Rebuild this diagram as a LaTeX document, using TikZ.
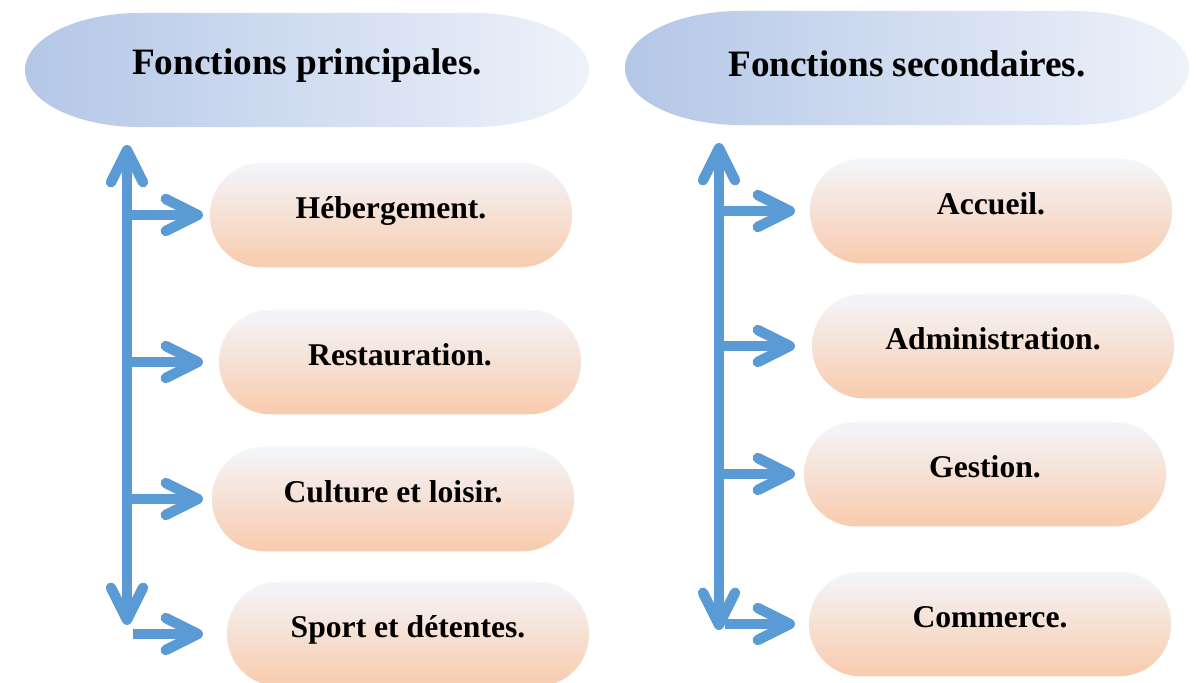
\documentclass[tikz,border=0pt]{standalone}
\usepackage{fontspec}
\setmainfont{Liberation Serif}
\usetikzlibrary{arrows.meta,positioning}
\definecolor{FBlue}{HTML}{5B9BD5}
\definecolor{FHeadL}{HTML}{B4C7E7}
\definecolor{FHeadR}{HTML}{EEF2FA}
\definecolor{FPillTop}{HTML}{F4F6FB}
\definecolor{FPillBot}{HTML}{F8CBAD}
\tikzset{
  branch/.style={-{Straight Barb[length=8mm,width=8mm,round]},FBlue,line width=2.6mm},
  spine/.style={branch,{Straight Barb[length=8mm,width=8mm,round]}-{Straight Barb[length=8mm,width=8mm,round]}},
  headfill/.style={left color=FHeadL,right color=FHeadR},
  headtext/.style={font=\fontsize{26.5}{32}\selectfont\bfseries,text=black},
  pill/.style={rectangle,rounded corners=1.3cm,minimum width=9.05cm,minimum height=2.62cm,
               top color=FPillTop,bottom color=FPillBot,inner sep=0pt,
               font=\fontsize{22.5}{27}\selectfont\bfseries,text height=15pt,text depth=10pt},
}
\newcommand{\headblob}[2]{%
  \begin{scope}[shift={(#1,#2)}]
    \path[headfill] (-282,0) arc[start angle=180,end angle=90,x radius=115,y radius=57]
      -- (167,57) arc[start angle=90,end angle=0,x radius=115,y radius=57]
      arc[start angle=0,end angle=-90,x radius=115,y radius=57]
      -- (-167,-57) arc[start angle=270,end angle=180,x radius=115,y radius=57] -- cycle;
  \end{scope}%
}

\begin{document}
\begin{tikzpicture}[x=0.025cm,y=-0.025cm]
    \useasboundingbox (0,0) rectangle (1196,683);
    % headers
    \headblob{307}{70}
    \headblob{907}{68}
    \node[headtext] (fp) at (307,66) {Fonctions principales.};
    \node[headtext] (fs) at (907,64) {Fonctions secondaires.};

    % left column
    \node[pill] (h1) at (391,215) {Hébergement.};
    \node[pill] (h2) at (400,362) {Restauration.};
    \node[pill] (h3) at (393,499) {Culture et loisir.};
    \node[pill] (h4) at (408,634) {Sport et détentes.};
    \coordinate (ltop) at (127,145);
    \coordinate (lbot) at (127,625);
    \coordinate (ltip) at (203,0);
    \draw[spine] (lbot) -- (ltop);
    \foreach \b in {h1,h2,h3}{
      \draw[branch] (ltop |- \b.west) -- (ltip |- \b.west);
    }
    \draw[branch] ([xshift=0.15cm]lbot |- h4.west) -- (ltip |- h4.west);

    % right column
    \node[pill] (s1) at (991,211) {Accueil.};
    \node[pill] (s2) at (993,346) {Administration.};
    \node[pill] (s3) at (985,474) {Gestion.};
    \node[pill] (s4) at (990,624) {Commerce.};
    \coordinate (rtop) at (719,143);
    \coordinate (rbot) at (719,630);
    \coordinate (rtip) at (795,0);
    \draw[spine] (rbot) -- (rtop);
    \foreach \b in {s1,s2,s3}{
      \draw[branch] (rtop |- \b.west) -- (rtip |- \b.west);
    }
    \draw[branch] ([xshift=0.15cm]rbot |- s4.west) -- (rtip |- s4.west);
\end{tikzpicture}
\end{document}
